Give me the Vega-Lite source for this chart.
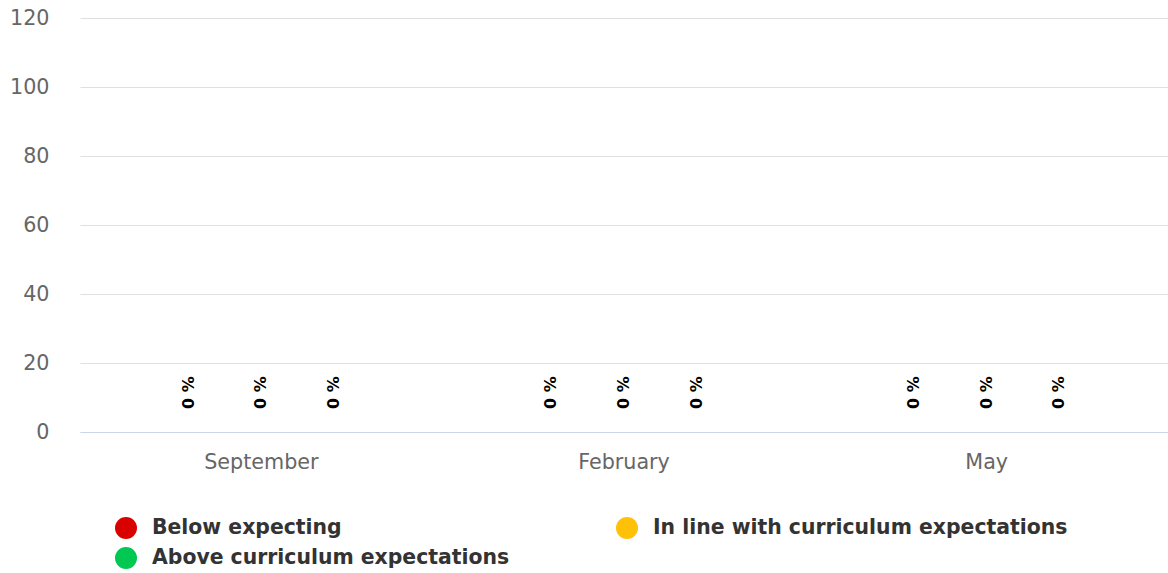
{
  "$schema": "https://vega.github.io/schema/vega-lite/v6.json",
  "autosize": {"type": "none"},
  "width": 1088,
  "height": 414,
  "padding": {"left": 80, "top": 18, "right": 0, "bottom": 141},
  "background": "white",
  "config": {
    "view": {"stroke": null},
    "font": "DejaVu Sans"
  },
  "data": {
    "values": [
      {"month": "September", "series": "Below expecting", "value": 0, "label": "0 %"},
      {"month": "September", "series": "In line with curriculum expectations", "value": 0, "label": "0 %"},
      {"month": "September", "series": "Above curriculum expectations", "value": 0, "label": "0 %"},
      {"month": "February", "series": "Below expecting", "value": 0, "label": "0 %"},
      {"month": "February", "series": "In line with curriculum expectations", "value": 0, "label": "0 %"},
      {"month": "February", "series": "Above curriculum expectations", "value": 0, "label": "0 %"},
      {"month": "May", "series": "Below expecting", "value": 0, "label": "0 %"},
      {"month": "May", "series": "In line with curriculum expectations", "value": 0, "label": "0 %"},
      {"month": "May", "series": "Above curriculum expectations", "value": 0, "label": "0 %"}
    ]
  },
  "encoding": {
    "x": {
      "field": "month", "type": "nominal",
      "sort": ["September", "February", "May"],
      "scale": {"paddingInner": 0.4, "paddingOuter": 0.2},
      "axis": {
        "title": null, "labelAngle": 0, "ticks": false,
        "domainColor": "#ccd6eb", "domainWidth": 1,
        "labelColor": "#666666", "labelFontSize": 20.7, "labelPadding": 20,
        "labelFont": "DejaVu Sans"
      }
    },
    "xOffset": {
      "field": "series", "type": "nominal",
      "sort": ["Below expecting", "In line with curriculum expectations", "Above curriculum expectations"],
      "scale": {"paddingInner": 0, "paddingOuter": 0}
    },
    "y": {
      "field": "value", "type": "quantitative",
      "scale": {"domain": [0, 120], "nice": false},
      "axis": {
        "title": null, "values": [0, 20, 40, 60, 80, 100, 120],
        "ticks": false, "domain": false, "gridColor": "#e0e0e0",
        "labelColor": "#666666", "labelFontSize": 20.7, "labelPadding": 31,
        "labelFont": "DejaVu Sans"
      }
    }
  },
  "layer": [
    {
      "mark": {"type": "bar"},
      "encoding": {
        "color": {
          "field": "series", "type": "nominal",
          "sort": ["Below expecting", "In line with curriculum expectations", "Above curriculum expectations"],
          "scale": {
            "domain": ["Below expecting", "In line with curriculum expectations", "Above curriculum expectations"],
            "range": ["#d90000", "#ffc107", "#00c853"]
          },
          "legend": {
            "title": null,
            "orient": "none",
            "legendX": 35,
            "legendY": 499,
            "columns": 2,
            "direction": "horizontal",
            "padding": 0,
            "symbolType": "circle",
            "symbolSize": 484,
            "symbolStrokeWidth": 0,
            "labelFontSize": 20.4,
            "labelFontWeight": "bold",
            "labelColor": "#333333",
            "labelFont": "DejaVu Sans",
            "labelOffset": 15,
            "labelLimit": 600,
            "rowPadding": 8,
            "columnPadding": 106
          }
        }
      }
    },
    {
      "mark": {
        "type": "text", "angle": 270, "align": "left", "baseline": "middle",
        "dx": 23, "fontSize": 16, "fontWeight": "bold", "color": "#000000",
        "font": "DejaVu Sans"
      },
      "encoding": {
        "text": {"field": "label", "type": "nominal"}
      }
    }
  ]
}
